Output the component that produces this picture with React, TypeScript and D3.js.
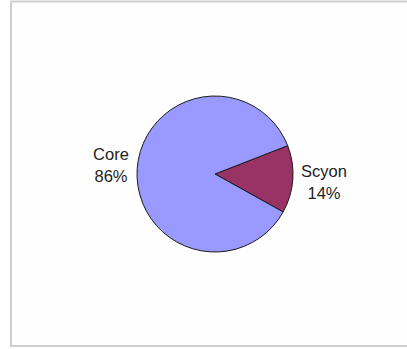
import React from "react";
import * as d3 from "d3";

const categories = ["Scyon", "Core"];
const values = [14, 86];
const colors = ["#993366", "#9999FF"];
const percentLabels = ["14%", "86%"];

const W = 407;
const H = 349;
const cx = 215;
const cy = 174;
const R = 78;

export default function App() {
  const pie = d3
    .pie<number>()
    .sort(null)
    .startAngle((68.7 * Math.PI) / 180)
    .endAngle((68.7 * Math.PI) / 180 + 2 * Math.PI);
  const arcs = pie(values);
  const arc = d3.arc<d3.PieArcDatum<number>>().innerRadius(0).outerRadius(R);
  const labelArc = d3.arc<d3.PieArcDatum<number>>().innerRadius(R + 34).outerRadius(R + 34);

  const labelPos = [
    { x: 324, y: 177 },
    { x: 111, y: 160 },
  ];

  return (
    <svg
      width={W}
      height={H}
      style={{ position: "absolute", left: 0, top: 0, display: "block" }}
      fontFamily="Liberation Sans, Arial, sans-serif"
    >
      <rect x={0} y={0} width={W} height={H} fill="#ffffff" />
      <rect x={11} y={1.5} width={W + 10} height={344.5} fill="#fefefe" stroke="#cfcfcf" strokeWidth={2} />
      <g transform={`translate(${cx},${cy})`}>
        {arcs.map((a, i) => (
          <path key={categories[i]} d={arc(a) || ""} fill={colors[i]} stroke="#1a1a1a" strokeWidth={1} />
        ))}
      </g>
      {arcs.map((a, i) => (
        <text key={"l" + i} x={labelPos[i].x} y={labelPos[i].y} textAnchor="middle" fontSize={16.5} fill="#222">
          <tspan x={labelPos[i].x}>{categories[i]}</tspan>
          <tspan x={labelPos[i].x} dy={22}>{percentLabels[i]}</tspan>
        </text>
      ))}
    </svg>
  );
}
